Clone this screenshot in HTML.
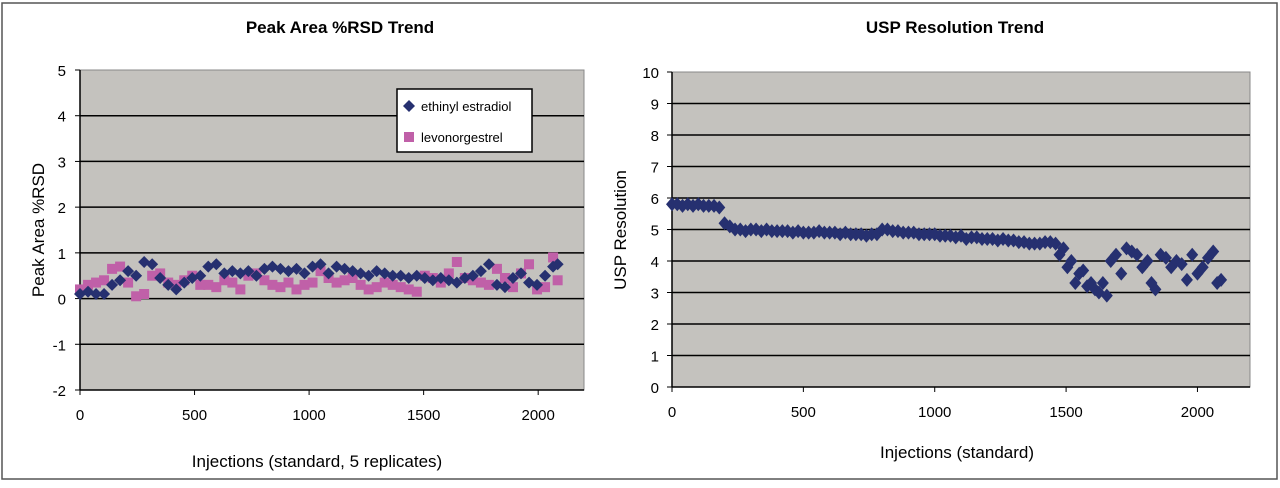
<!DOCTYPE html>
<html><head><meta charset="utf-8"><style>
body{margin:0;background:#fff;width:1280px;height:483px;overflow:hidden;font-family:"Liberation Sans",sans-serif}
svg text{font-family:"Liberation Sans",sans-serif}
</style></head><body>
<svg id="svg" width="1280" height="483" xmlns="http://www.w3.org/2000/svg">
<rect x="2" y="3" width="1275" height="476" fill="#fff" stroke="#555" stroke-width="1.5"/>
<text x="340" y="33" text-anchor="middle" font-size="17" font-weight="bold">Peak Area %RSD Trend</text>
<text x="955" y="33" text-anchor="middle" font-size="17" font-weight="bold">USP Resolution Trend</text>
<g id="left"></g>
<g id="right"></g>
</svg>
<script>
const eeX=[0,35,70,105,140,175,210,245,280,315,350,385,420,455,490,525,560,595,630,665,700,735,770,805,840,875,910,945,980,1015,1050,1085,1120,1155,1190,1225,1260,1295,1330,1365,1400,1435,1470,1505,1540,1575,1610,1645,1680,1715,1750,1785,1820,1855,1890,1925,1960,1995,2030,2065,2085];
const eeY=[0.1,0.15,0.1,0.1,0.3,0.4,0.6,0.5,0.8,0.75,0.45,0.3,0.2,0.35,0.45,0.5,0.7,0.75,0.55,0.6,0.55,0.6,0.5,0.65,0.7,0.65,0.6,0.65,0.55,0.7,0.75,0.55,0.7,0.65,0.6,0.55,0.5,0.6,0.55,0.5,0.5,0.45,0.5,0.45,0.4,0.45,0.4,0.35,0.45,0.5,0.6,0.75,0.3,0.25,0.45,0.55,0.35,0.3,0.5,0.7,0.75];
const lnX=[0,35,70,105,140,175,210,245,280,315,350,385,420,455,490,525,560,595,630,665,700,735,770,805,840,875,910,945,980,1015,1050,1085,1120,1155,1190,1225,1260,1295,1330,1365,1400,1435,1470,1505,1540,1575,1610,1645,1680,1715,1750,1785,1820,1855,1890,1925,1960,1995,2030,2065,2085];
const lnY=[0.2,0.3,0.35,0.4,0.65,0.7,0.35,0.05,0.1,0.5,0.55,0.35,0.3,0.4,0.5,0.3,0.3,0.25,0.4,0.35,0.2,0.5,0.55,0.4,0.3,0.25,0.35,0.2,0.3,0.35,0.6,0.45,0.35,0.4,0.45,0.3,0.2,0.25,0.35,0.3,0.25,0.2,0.15,0.5,0.45,0.35,0.55,0.8,0.45,0.4,0.35,0.3,0.65,0.45,0.25,0.55,0.75,0.2,0.25,0.9,0.4];
const uspX=[0,20,40,60,80,100,120,140,160,180,200,220,240,260,280,300,320,340,360,380,400,420,440,460,480,500,520,540,560,580,600,620,640,660,680,700,720,740,760,780,800,820,840,860,880,900,920,940,960,980,1000,1020,1040,1060,1080,1100,1120,1140,1160,1180,1200,1220,1240,1260,1280,1300,1320,1340,1360,1380,1400,1420,1440,1460,1475,1490,1505,1520,1535,1550,1565,1580,1595,1610,1625,1640,1655,1670,1690,1710,1730,1750,1770,1790,1810,1825,1840,1860,1880,1900,1920,1940,1960,1980,2000,2020,2040,2060,2075,2090];
const uspY=[5.8,5.8,5.75,5.8,5.75,5.8,5.75,5.75,5.75,5.7,5.2,5.1,5.0,5.0,4.95,5.0,5.0,4.95,5.0,4.95,4.95,4.95,4.95,4.9,4.95,4.9,4.9,4.9,4.95,4.9,4.9,4.9,4.85,4.9,4.85,4.85,4.85,4.8,4.85,4.85,5.0,5.0,4.95,4.95,4.9,4.9,4.9,4.85,4.85,4.85,4.85,4.8,4.8,4.8,4.75,4.8,4.7,4.75,4.75,4.7,4.7,4.7,4.65,4.7,4.65,4.65,4.6,4.6,4.55,4.55,4.55,4.6,4.6,4.55,4.2,4.4,3.8,4.0,3.3,3.6,3.7,3.2,3.3,3.1,3.0,3.3,2.9,4.0,4.2,3.6,4.4,4.3,4.2,3.8,4.0,3.3,3.1,4.2,4.1,3.8,4.0,3.9,3.4,4.2,3.6,3.8,4.1,4.3,3.3,3.4,3.5];
const NS='http://www.w3.org/2000/svg';
function mk(p,tag,at,txt){const e=document.createElementNS(NS,tag);for(const k in at)e.setAttribute(k,at[k]);if(txt!==undefined)e.textContent=txt;p.appendChild(e);return e;}
// left chart
const L=document.getElementById('left');
const lx0=80,lx1=584,ly0=390,ly1=70,lmin=-2,lmax=5,lxmax=2200;
const lX=v=>lx0+(lx1-lx0)*v/lxmax, lY=v=>ly0-(ly0-ly1)*(v-lmin)/(lmax-lmin);
let e=mk(L,'rect',{x:lx0,y:ly1,width:lx1-lx0,height:ly0-ly1,fill:'#c4c2be',stroke:'#888'});


for(let v=lmin;v<=lmax;v++){
 if(v>lmin&&v<lmax){e=mk(L,'line',{x1:lx0,x2:lx1,y1:lY(v),y2:lY(v),stroke:'#000','stroke-width':1.5});
 
 }
 e=mk(L,'text',{x:lx0-14,y:lY(v)+6,'text-anchor':'end','font-size':15},String(v));
 
 
 mk(L,'line',{x1:lx0-5,x2:lx0,y1:lY(v),y2:lY(v),stroke:'#000'});
}
mk(L,'line',{x1:lx0,x2:lx0,y1:ly1,y2:ly0,stroke:'#000','stroke-width':1.5});
mk(L,'line',{x1:lx0,x2:lx1,y1:ly0,y2:ly0,stroke:'#000','stroke-width':1.5});
for(let v=0;v<=2000;v+=500){
 mk(L,'line',{x1:lX(v),x2:lX(v),y1:ly0,y2:ly0+5,stroke:'#000'});
 e=mk(L,'text',{x:lX(v),y:ly0+30,'text-anchor':'middle','font-size':15},String(v));
 
 
}
e=mk(L,'text',{x:317,y:467,'text-anchor':'middle','font-size':17},'Injections (standard, 5 replicates)');


e=mk(L,'text',{x:0,y:0,'text-anchor':'middle','font-size':17,transform:'translate(44,230) rotate(-90)'},'Peak Area %RSD');


lnX.forEach((x,i)=>{const cx=lX(x),cy=lY(lnY[i]);
 e=mk(L,'rect',{x:cx-5,y:cy-5,width:10,height:10,fill:'#c060a8'});
 
 });
eeX.forEach((x,i)=>{const cx=lX(x),cy=lY(eeY[i]);
 e=mk(L,'path',{d:`M${cx},${cy-6}L${cx+6},${cy}L${cx},${cy+6}L${cx-6},${cy}Z`,fill:'#263070'});
 
 });
// legend
const lg=mk(L,'g',{});


mk(lg,'rect',{x:397,y:89,width:135,height:63,fill:'#fff',stroke:'#000','stroke-width':1.5});
mk(lg,'path',{d:'M409,100L415,106L409,112L403,106Z',fill:'#263070'});
e=mk(lg,'text',{x:421,y:111,'font-size':13},'ethinyl estradiol');


mk(lg,'rect',{x:404,y:132,width:10,height:10,fill:'#c060a8'});
e=mk(lg,'text',{x:421,y:142,'font-size':13},'levonorgestrel');


// right chart
const R=document.getElementById('right');
const rx0=672,rx1=1250,ry0=387,ry1=72,rmax=10,rxmax=2200;
const rX=v=>rx0+(rx1-rx0)*v/rxmax, rY=v=>ry0-(ry0-ry1)*v/rmax;
e=mk(R,'rect',{x:rx0,y:ry1,width:rx1-rx0,height:ry0-ry1,fill:'#c4c2be',stroke:'#888'});


for(let v=0;v<=rmax;v++){
 if(v>0&&v<rmax){e=mk(R,'line',{x1:rx0,x2:rx1,y1:rY(v),y2:rY(v),stroke:'#000','stroke-width':1.5});
 
 }
 e=mk(R,'text',{x:rx0-13,y:rY(v)+6,'text-anchor':'end','font-size':15},String(v));
 
 
 mk(R,'line',{x1:rx0-5,x2:rx0,y1:rY(v),y2:rY(v),stroke:'#000'});
}
mk(R,'line',{x1:rx0,x2:rx0,y1:ry1,y2:ry0,stroke:'#000','stroke-width':1.5});
mk(R,'line',{x1:rx0,x2:rx1,y1:ry0,y2:ry0,stroke:'#000','stroke-width':1.5});
for(let v=0;v<=2000;v+=500){
 mk(R,'line',{x1:rX(v),x2:rX(v),y1:ry0,y2:ry0+5,stroke:'#000'});
 e=mk(R,'text',{x:rX(v),y:ry0+30,'text-anchor':'middle','font-size':15},String(v));
 
 
}
e=mk(R,'text',{x:957,y:458,'text-anchor':'middle','font-size':17},'Injections (standard)');


e=mk(R,'text',{x:0,y:0,'text-anchor':'middle','font-size':17,transform:'translate(626,230) rotate(-90)'},'USP Resolution');


uspX.forEach((x,i)=>{const cx=rX(x),cy=rY(uspY[i]);
 e=mk(R,'path',{d:`M${cx},${cy-7}L${cx+6},${cy}L${cx},${cy+7}L${cx-6},${cy}Z`,fill:'#263070'});
 
 });
</script>
</body></html>
